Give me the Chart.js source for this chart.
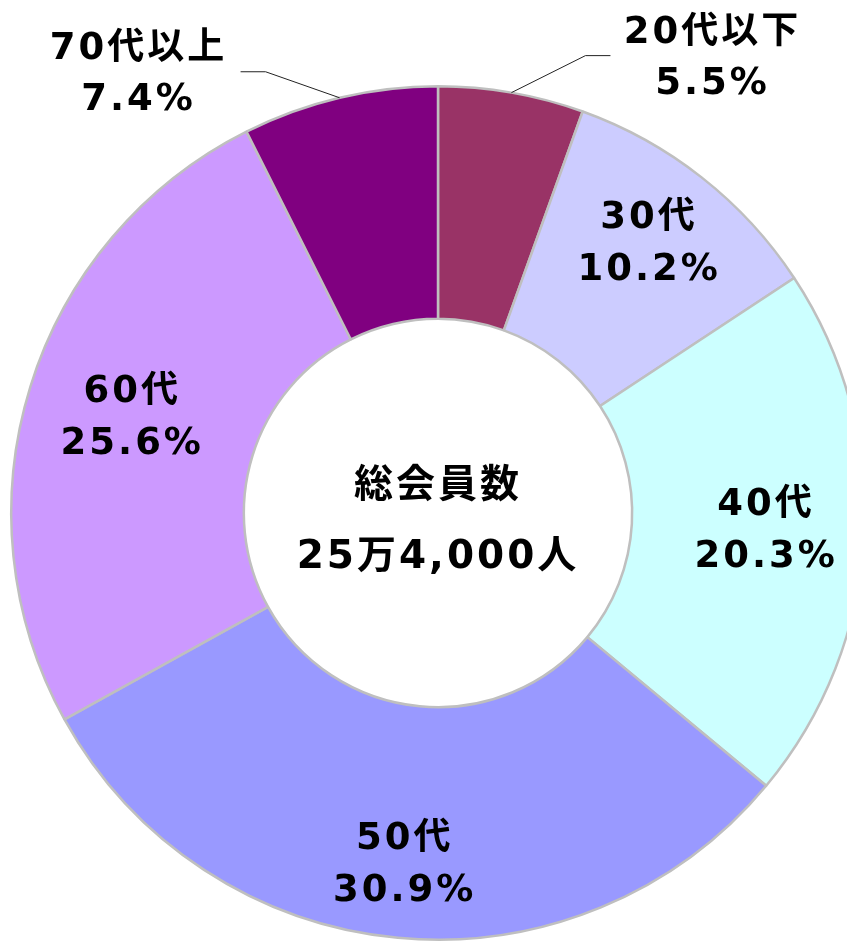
<!DOCTYPE html>
<html lang="ja">
<head>
<meta charset="utf-8">
<script src="https://cdn.jsdelivr.net/npm/chart.js@4.4.1/dist/chart.umd.min.js"></script>
<style>
  html, body { margin: 0; padding: 0; background: #fff; overflow: hidden; }
  #wrap { position: absolute; left: 0; top: 0; width: 876px; height: 1026px; }
</style>
</head>
<body>
<div id="wrap"><canvas id="age_chart" width="876" height="1026"></canvas></div>
<script>
// age groups and their share (%)
const ageLabels = ["20代以下", "30代", "40代", "50代", "60代", "70代以上"];
const shareValues = [5.5, 10.2, 20.3, 30.9, 25.6, 7.4];
const centerTitle = "総会員数";
const centerTotal = "25万4,000人";

const sliceColors = ["#993366", "#ccccff", "#ccffff", "#9999ff", "#cc99ff", "#800080"];
// how far out (fraction of outer radius) the inside labels sit, null = outside with leader
const labelRadius = [null, 0.80, 0.77, 0.83, 0.75, null];
const labelFont = "bold 37px 'DejaVu Sans', 'Noto Sans CJK JP', sans-serif";

const labelPlugin = {
  id: "sliceLabels",
  afterDraw(chart) {
    const ctx = chart.ctx;
    const arcs = chart.getDatasetMeta(0).data;
    ctx.save();
    ctx.fillStyle = "#000";
    ctx.textAlign = "center";
    ctx.textBaseline = "middle";
    ctx.font = labelFont;
    ctx.letterSpacing = "3px";

    arcs.forEach((arc, i) => {
      const mid = (arc.startAngle + arc.endAngle) / 2;
      const txt1 = ageLabels[i];
      const txt2 = shareValues[i].toFixed(1) + "%";
      if (labelRadius[i] !== null) {
        const r = arc.outerRadius * labelRadius[i];
        const lx = arc.x + Math.cos(mid) * r;
        const ly = arc.y + Math.sin(mid) * r;
        ctx.fillText(txt1, lx, ly - 26);
        ctx.fillText(txt2, lx, ly + 26);
      } else {
        // leader line from rim
        const px = arc.x + Math.cos(mid) * arc.outerRadius;
        const py = arc.y + Math.sin(mid) * arc.outerRadius;
        const side = Math.cos(mid) >= 0 ? 1 : -1;
        const ex = px + side * 74;
        const ey = py - (side > 0 ? 37 : 26);
        const hx = ex + side * 25;
        ctx.strokeStyle = "#222";
        ctx.lineWidth = 1;
        ctx.beginPath();
        ctx.moveTo(px, py);
        ctx.lineTo(ex, ey);
        ctx.lineTo(hx, ey);
        ctx.stroke();
        const tx = hx + side * 102;
        ctx.fillText(txt1, tx, ey - 22);
        ctx.fillText(txt2, tx, ey + 29);
      }
    });

    // total in the hole
    const a = arcs[0];
    ctx.font = "bold 39px 'DejaVu Sans', 'Noto Sans CJK JP', sans-serif";
    ctx.letterSpacing = "3px";
    ctx.fillText(centerTitle, a.x, a.y - 26);
    ctx.fillText(centerTotal, a.x, a.y + 45);
    ctx.restore();
  },
};

const ageChart = new Chart(document.getElementById("age_chart"), {
  type: "doughnut",
  data: {
    labels: ageLabels,
    datasets: [
      {
        data: shareValues,
        backgroundColor: sliceColors,
        borderColor: "#bfbfbf",
        borderWidth: 2.5,
      },
    ],
  },
  options: {
    responsive: false,
    animation: false,
    cutout: "45.5%",
    layout: { padding: 10 },
    plugins: {
      legend: { display: false },
      tooltip: { enabled: false },
    },
  },
  plugins: [labelPlugin],
});
</script>
</body>
</html>
